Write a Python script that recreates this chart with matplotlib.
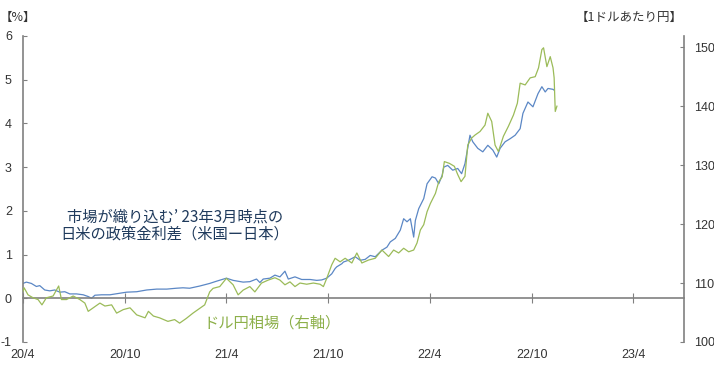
import pandas as pd
import matplotlib
matplotlib.use("Agg")
import matplotlib.pyplot as plt

plt.rcParams["axes.unicode_minus"] = False

# policy rate gap priced for Mar 2023 (US - Japan), left axis [%]
gap_dates = [
    "2020-04-01", "2020-04-07", "2020-04-16", "2020-04-25", "2020-05-01", "2020-05-10",
    "2020-05-19", "2020-05-28", "2020-06-06", "2020-06-15", "2020-06-24", "2020-07-06",
    "2020-07-18", "2020-07-27", "2020-08-02", "2020-08-08", "2020-08-20", "2020-09-04",
    "2020-09-19", "2020-10-04", "2020-10-22", "2020-11-09", "2020-11-27", "2020-12-15",
    "2021-01-01", "2021-01-13", "2021-01-25", "2021-02-12", "2021-03-02", "2021-03-14",
    "2021-04-01", "2021-04-13", "2021-05-01", "2021-05-13", "2021-05-25", "2021-05-31",
    "2021-06-06", "2021-06-18", "2021-06-27", "2021-07-06", "2021-07-15", "2021-07-21",
    "2021-08-02", "2021-08-14", "2021-08-29", "2021-09-10", "2021-09-19", "2021-09-28",
    "2021-10-07", "2021-10-13", "2021-10-16", "2021-10-25", "2021-10-28", "2021-11-06",
    "2021-11-18", "2021-11-27", "2021-12-06", "2021-12-15", "2021-12-24", "2022-01-05",
    "2022-01-14", "2022-01-20", "2022-01-29", "2022-02-07", "2022-02-13", "2022-02-19",
    "2022-02-25", "2022-03-03", "2022-03-06", "2022-03-12", "2022-03-21", "2022-03-27",
    "2022-04-05", "2022-04-11", "2022-04-17", "2022-04-23", "2022-04-26", "2022-05-03",
    "2022-05-12", "2022-05-21", "2022-05-28", "2022-06-03", "2022-06-12", "2022-06-17",
    "2022-06-26", "2022-07-05", "2022-07-14", "2022-07-23", "2022-07-30", "2022-08-05",
    "2022-08-14", "2022-08-23", "2022-09-01", "2022-09-10", "2022-09-15", "2022-09-24",
    "2022-10-03", "2022-10-12", "2022-10-19", "2022-10-25", "2022-10-30", "2022-11-08",
    "2022-11-10",
]
gap_values = [
    0.34, 0.37, 0.34, 0.27, 0.29, 0.19,
    0.17, 0.19, 0.14, 0.15, 0.10, 0.10,
    0.08, 0.04, 0.00, 0.07, 0.08, 0.08,
    0.11, 0.14, 0.15, 0.19, 0.21, 0.21,
    0.23, 0.24, 0.23, 0.28, 0.34, 0.39,
    0.46, 0.41, 0.37, 0.38, 0.44, 0.36,
    0.44, 0.46, 0.53, 0.49, 0.62, 0.44,
    0.49, 0.43, 0.43, 0.41, 0.42, 0.46,
    0.56, 0.68, 0.72, 0.79, 0.83, 0.87,
    0.95, 0.87, 0.89, 0.98, 0.95, 1.10,
    1.17, 1.29, 1.37, 1.56, 1.82, 1.75,
    1.82, 1.40, 1.78, 2.05, 2.28, 2.62,
    2.78, 2.75, 2.62, 2.81, 3.00, 3.04,
    2.93, 2.97, 2.85, 3.08, 3.73, 3.58,
    3.43, 3.35, 3.50, 3.39, 3.23, 3.43,
    3.58, 3.65, 3.73, 3.88, 4.23, 4.49,
    4.38, 4.68, 4.84, 4.72, 4.80, 4.78,
    4.76,
]

# USD/JPY, right axis [yen per dollar]
fx_dates = [
    "2020-04-01", "2020-04-03", "2020-04-10", "2020-04-19", "2020-04-28", "2020-05-05",
    "2020-05-13", "2020-05-25", "2020-06-04", "2020-06-09", "2020-06-18", "2020-06-30",
    "2020-07-12", "2020-07-21", "2020-07-27", "2020-08-05", "2020-08-17", "2020-08-26",
    "2020-09-07", "2020-09-16", "2020-09-28", "2020-10-10", "2020-10-22", "2020-11-06",
    "2020-11-12", "2020-11-21", "2020-12-02", "2020-12-17", "2020-12-29", "2021-01-07",
    "2021-01-19", "2021-01-31", "2021-02-12", "2021-02-21", "2021-03-02", "2021-03-08",
    "2021-03-20", "2021-04-01", "2021-04-13", "2021-04-22", "2021-05-01", "2021-05-13",
    "2021-05-22", "2021-06-03", "2021-06-15", "2021-06-27", "2021-07-06", "2021-07-15",
    "2021-07-24", "2021-08-02", "2021-08-11", "2021-08-23", "2021-09-04", "2021-09-16",
    "2021-09-22", "2021-09-28", "2021-10-07", "2021-10-13", "2021-10-22", "2021-10-31",
    "2021-11-12", "2021-11-21", "2021-11-30", "2021-12-12", "2021-12-24", "2022-01-05",
    "2022-01-17", "2022-01-26", "2022-02-04", "2022-02-13", "2022-02-22", "2022-03-03",
    "2022-03-09", "2022-03-15", "2022-03-21", "2022-03-27", "2022-04-02", "2022-04-11",
    "2022-04-17", "2022-04-23", "2022-04-27", "2022-05-06", "2022-05-15", "2022-05-21",
    "2022-05-27", "2022-06-03", "2022-06-08", "2022-06-15", "2022-06-21", "2022-06-30",
    "2022-07-09", "2022-07-14", "2022-07-21", "2022-07-27", "2022-08-02", "2022-08-11",
    "2022-08-20", "2022-08-29", "2022-09-05", "2022-09-10", "2022-09-19", "2022-09-28",
    "2022-10-07", "2022-10-13", "2022-10-19", "2022-10-22", "2022-10-28", "2022-11-03",
    "2022-11-08", "2022-11-10", "2022-11-12", "2022-11-15",
]
fx_values = [
    108.6, 109.2, 108.0, 107.5, 107.2, 106.3,
    107.5, 107.8, 109.5, 107.2, 107.2, 107.8,
    107.2, 106.6, 105.2, 105.8, 106.6, 106.1,
    106.3, 104.9, 105.5, 105.8, 104.6, 104.1,
    105.2, 104.4, 104.1, 103.5, 103.8, 103.2,
    104.0, 104.9, 105.7, 106.3, 108.5, 109.1,
    109.4, 110.8, 109.7, 108.0, 108.8, 109.4,
    108.5, 110.0, 110.5, 110.9, 110.5, 109.7,
    110.2, 109.4, 110.0, 109.8, 110.0, 109.8,
    109.4, 110.8, 113.1, 114.2, 113.6, 114.2,
    113.4, 115.1, 113.4, 113.9, 114.2, 115.6,
    114.5, 115.6, 115.1, 115.9, 115.3, 115.6,
    116.8, 119.0, 119.9, 122.1, 123.5, 125.2,
    127.2, 128.0, 130.6, 130.3, 129.8, 128.4,
    127.2, 128.1, 133.4, 134.6, 135.1, 135.7,
    136.8, 138.8, 137.4, 133.4, 132.3, 134.9,
    136.6, 138.5, 140.5, 143.9, 143.6, 144.8,
    145.0, 146.5, 149.6, 149.9, 146.7, 148.4,
    146.5, 144.8, 139.1, 140.0,
]

tick_dates = ["2020-04-01", "2020-10-01", "2021-04-01", "2021-10-01",
              "2022-04-01", "2022-10-01", "2023-04-01"]
tick_labels = ["20/4", "20/10", "21/4", "21/10", "22/4", "22/10", "23/4"]

gap_dates = pd.to_datetime(gap_dates)
fx_dates = pd.to_datetime(fx_dates)
tick_dates = pd.to_datetime(tick_dates)

blue = "#5B87C5"
green = "#9BBB59"
grey = "#808080"
num_font = ["Liberation Sans", "DejaVu Sans"]
jp_font = ["Noto Sans CJK JP", "DejaVu Sans"]

fig = plt.figure(figsize=(7.14, 3.71), dpi=100)
ax = fig.add_axes([23 / 714, 29 / 371, 661 / 714, 306 / 371])
ax2 = ax.twinx()

ax.plot(gap_dates, gap_values, color=blue, lw=0.9)
ax2.plot(fx_dates, fx_values, color=green, lw=0.9)

ax.set_xlim(pd.Timestamp("2020-04-01"), pd.Timestamp("2023-07-01"))
ax.set_ylim(-1, 6)
ax2.set_ylim(100, 151.9)

# spines
for s in ["top", "right"]:
    ax.spines[s].set_visible(False)
for s in ["top", "left", "bottom"]:
    ax2.spines[s].set_visible(False)
ax.spines["bottom"].set_position(("data", 0))
for sp in [ax.spines["left"], ax.spines["bottom"], ax2.spines["right"]]:
    sp.set_color(grey)
    sp.set_linewidth(1.2)

ax.set_yticks(range(-1, 7))
ax.tick_params(axis="y", direction="in", length=3, color=grey, pad=8, labelsize=9)
ax2.set_yticks(range(100, 151, 10))
ax2.tick_params(axis="y", direction="in", length=3, color=grey, pad=7, labelsize=9)

ax.set_xticks(tick_dates)
ax.set_xticklabels(tick_labels)
ax.tick_params(axis="x", direction="inout", length=7, color=grey, pad=33, labelsize=9)

for lab in ax.get_xticklabels() + ax.get_yticklabels() + ax2.get_yticklabels():
    lab.set_family(num_font)
    lab.set_color("#333333")

# annotations
ax.text(0.23, 0.4085, "市場が織り込む’ 23年3月時点の", transform=ax.transAxes,
        ha="center", va="center", fontsize=11, color="#1F3A5C", family=jp_font)
ax.text(0.23, 0.353, "日米の政策金利差（米国ー日本）", transform=ax.transAxes,
        ha="center", va="center", fontsize=11, color="#1F3A5C", family=jp_font)
ax.text(0.3775, 0.062, "ドル円相場（右軸）", transform=ax.transAxes,
        ha="center", va="center", fontsize=11, color="#8DB04A", family=jp_font)

fig.text(0.0, 1 - 17 / 371, "【%】", ha="left", va="center", fontsize=9,
         color="#333333", family=jp_font)
fig.text(683 / 714, 1 - 17 / 371, "【1ドルあたり円】", ha="right", va="center",
         fontsize=9, color="#333333", family=jp_font)

fig.savefig("out.png", dpi=100)
